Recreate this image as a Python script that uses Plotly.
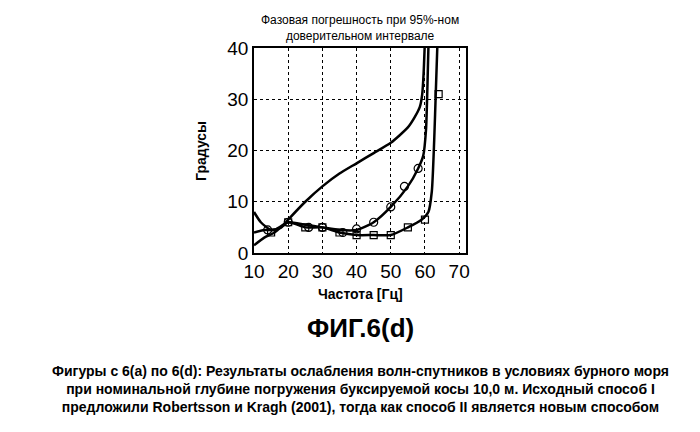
import plotly.graph_objects as go

xa = [10, 12, 15, 18, 20, 25, 30, 35, 40, 45, 50, 55, 57, 58.5, 59.2, 59.6, 59.9]
ya = [8, 6, 4.5, 5, 6.5, 10, 13, 15.5, 17.5, 19.5, 21.5, 24.5, 26.5, 28.5, 31, 35, 40]
xb = [10, 13, 16, 20, 25, 30, 35, 40, 45, 50, 55, 58, 59.5, 60.3, 60.7, 61]
yb = [4, 4.5, 4.5, 6, 5.5, 5, 4.5, 4.5, 6, 9, 13, 16.5, 19, 24, 32, 40]
xbm = [14, 20, 26, 30, 36, 40, 45, 50, 54, 58]
ybm = [4.5, 6, 5, 5, 4, 4.7, 6, 9, 13, 16.5]
xc = [10, 13, 16, 20, 25, 30, 35, 40, 45, 50, 55, 59, 61, 62, 62.7, 63.2, 63.6]
yc = [1.5, 3, 4, 6, 5, 5, 4, 3.5, 3.5, 3.5, 5, 6.5, 8, 12, 22, 32, 40]
xcm = [15, 20, 25, 30, 35, 40, 45, 50, 55, 60, 64]
ycm = [4, 6, 5, 5, 4, 3.5, 3.5, 3.5, 5, 6.5, 31]

fig = go.Figure()
ln = dict(color="black", width=2.5, shape="spline", smoothing=0.6)
fig.add_trace(go.Scatter(x=xa, y=ya, mode="lines", line=ln))
fig.add_trace(go.Scatter(x=xb, y=yb, mode="lines", line=ln))
fig.add_trace(go.Scatter(x=xbm, y=ybm, mode="markers", marker=dict(symbol="circle-open", size=8, color="black", line=dict(width=1.2))))
fig.add_trace(go.Scatter(x=xc, y=yc, mode="lines", line=ln))
fig.add_trace(go.Scatter(x=xcm, y=ycm, mode="markers", marker=dict(symbol="square-open", size=7, color="black", line=dict(width=1.2))))

ax = dict(showline=True, linecolor="black", linewidth=1.5, mirror=True, showgrid=True,
          gridcolor="black", griddash="dot", gridwidth=1, ticks="", zeroline=False,
          tickfont=dict(family="Liberation Sans", size=19, color="black"))
fig.update_xaxes(range=[10, 72], tickvals=[10, 20, 30, 40, 50, 60, 70], **ax)
fig.update_yaxes(range=[0, 40], tickvals=[0, 10, 20, 30, 40], **ax)
fig.update_layout(width=700, height=432, showlegend=False, plot_bgcolor="white", paper_bgcolor="white",
                  margin=dict(l=246, r=242, t=40, b=187))
F = "Liberation Sans"
ann = [
    dict(x=0.5, y=1.0, text="Фазовая погрешность при 95%-ном<br>доверительном интервале", size=12, bold=False),
    dict(x=-0.3, y=0.5, text="Градусы", size=14, bold=True, rot=-90),
    dict(x=0.5, y=-0.2, text="Частота [Гц]", size=14, bold=True),
]
for a in ann:
    fig.add_annotation(xref="paper", yref="paper", x=a["x"], y=a["y"], showarrow=False,
                       yanchor="bottom" if a["y"] == 1.0 else "middle", yshift=3 if a["y"] == 1.0 else 0,
                       text=("<b>%s</b>" % a["text"]) if a["bold"] else a["text"],
                       textangle=a.get("rot", 0), font=dict(family=F, size=a["size"], color="black"))
fig.add_annotation(xref="paper", yref="paper", x=0.5, y=-0.45, showarrow=False,
                   text="<b>ФИГ.6(d)</b>", font=dict(family=F, size=26, color="black"))
fig.add_annotation(xref="paper", yref="paper", x=0.5, y=-0.8, showarrow=False,
                   text="<b>Фигуры с 6(a) по 6(d): Результаты ослабления волн-спутников в условиях бурного моря<br>"
                        "при номинальной глубине погружения буксируемой косы 10,0 м. Исходный способ I<br>"
                        "предложили Robertsson и Kragh (2001), тогда как способ II является новым способом</b>",
                   font=dict(family=F, size=14, color="black"))
fig.write_html("out.html")
